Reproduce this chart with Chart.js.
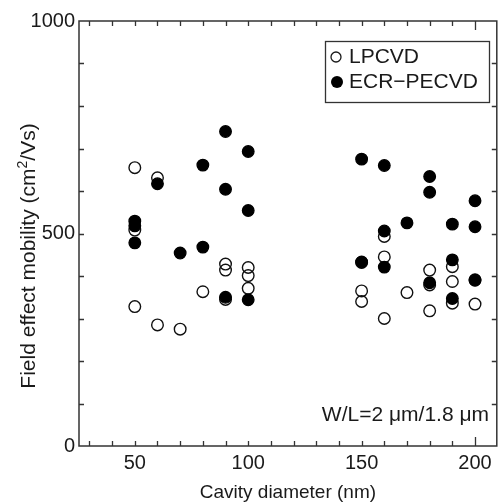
<!DOCTYPE html>
<html><head><meta charset="utf-8">
<script src="https://cdn.jsdelivr.net/npm/chart.js@4.4.0/dist/chart.umd.min.js"></script>
<style>html,body{margin:0;padding:0;background:#fff}#wrap{width:504px;height:504px}</style>
</head><body><div id="wrap"><canvas id="c" width="504" height="504"></canvas></div>
<script>
// Data
const lpcvdX = [50, 50, 50, 60, 60, 70, 80, 90, 90, 90, 100, 100, 100, 150, 150, 150, 160, 160, 160, 170, 180, 180, 180, 190, 190, 190, 200, 200];
const lpcvdY = [655, 508, 328, 631, 285, 275, 363, 428, 414, 345, 420, 401, 371, 365, 340, 432, 493, 445, 300, 361, 414, 379, 318, 422, 387, 336, 334, 391];
const ecrX = [50, 50, 50, 60, 70, 80, 80, 90, 90, 90, 100, 100, 100, 150, 150, 160, 160, 160, 170, 180, 180, 180, 190, 190, 190, 200, 200, 200];
const ecrY = [529, 518, 478, 617, 454, 661, 468, 740, 604, 350, 693, 554, 344, 675, 433, 660, 506, 421, 525, 634, 597, 384, 522, 438, 347, 577, 516, 390];
const xTickLabels = [50, 100, 150, 200];
const yTickLabels = [0, 500, 1000];
const seriesNames = ['LPCVD', 'ECR\u2212PECVD'];
const xTitle = 'Cavity diameter (nm)';
const yTitleParts = ['Field effect mobility (cm', '2', '/Vs)'];
const annotationText = 'W/L=2 \u03bcm/1.8 \u03bcm';

const FONT = "'Liberation Sans', Arial, Helvetica, sans-serif";
const INK = '#1a1a1a';

const toPts = (xs, ys) => xs.map((x, i) => ({x: x, y: ys[i]}));

const framePlugin = {
  id: 'frame',
  beforeDatasetsDraw(chart) {
    const {ctx, chartArea: a, scales: {x, y}} = chart;
    ctx.save();
    ctx.strokeStyle = '#333';
    ctx.lineWidth = 1.5;
    ctx.strokeRect(a.left, a.top, a.right - a.left, a.bottom - a.top);
    ctx.lineWidth = 1.3;
    ctx.beginPath();
    for (let v = 30; v <= 200; v += 10) {
      const px = Math.round(x.getPixelForValue(v)) + 0.5;
      const len = v === 200 ? 9 : 5;
      ctx.moveTo(px, a.bottom); ctx.lineTo(px, a.bottom - len);
      ctx.moveTo(px, a.top); ctx.lineTo(px, a.top + len);
    }
    for (let v = 100; v < 1000; v += 100) {
      const py = Math.round(y.getPixelForValue(v)) + 0.5;
      ctx.moveTo(a.left, py); ctx.lineTo(a.left + 5, py);
      ctx.moveTo(a.right, py); ctx.lineTo(a.right - 5, py);
    }
    ctx.stroke();
    ctx.restore();
  },
  afterDraw(chart) {
    const {ctx} = chart;
    ctx.save();
    // legend box
    ctx.strokeStyle = '#333';
    ctx.lineWidth = 1.3;
    ctx.strokeRect(325.5, 41.5, 164, 61);
    ctx.fillStyle = INK;
    ctx.font = '21px ' + FONT;
    ctx.textBaseline = 'middle';
    ctx.textAlign = 'left';
    ctx.beginPath(); ctx.arc(336, 57, 5, 0, Math.PI * 2);
    ctx.lineWidth = 1.3; ctx.strokeStyle = INK; ctx.stroke();
    ctx.fillText(chart.data.datasets[1].label, 349, 57);
    ctx.beginPath(); ctx.arc(337, 82, 6, 0, Math.PI * 2);
    ctx.fillStyle = '#000'; ctx.fill();
    ctx.fillStyle = INK;
    ctx.fillText(chart.data.datasets[0].label, 349, 82);
    // annotation
    ctx.font = '21px ' + FONT;
    ctx.textAlign = 'right';
    ctx.fillText(annotationText, 489, 415);
    // y-axis title with superscript
    ctx.translate(27, 256);
    ctx.rotate(-Math.PI / 2);
    const big = '21px ' + FONT, small = '14px ' + FONT;
    ctx.font = big; const w0 = ctx.measureText(yTitleParts[0]).width;
    ctx.font = small; const w1 = ctx.measureText(yTitleParts[1]).width;
    ctx.font = big; const w2 = ctx.measureText(yTitleParts[2]).width;
    let sx = -(w0 + w1 + w2) / 2;
    ctx.textAlign = 'left';
    ctx.textBaseline = 'alphabetic';
    const base = 7.5;
    ctx.font = big; ctx.fillText(yTitleParts[0], sx, base); sx += w0;
    ctx.font = small; ctx.fillText(yTitleParts[1], sx, base - 8); sx += w1;
    ctx.font = big; ctx.fillText(yTitleParts[2], sx, base);
    ctx.restore();
  }
};

new Chart(document.getElementById('c'), {
  type: 'scatter',
  data: {
    datasets: [
      {
        label: seriesNames[1],
        data: toPts(ecrX, ecrY),
        order: 1,
        pointRadius: 5.8,
        pointBorderWidth: 1.3,
        pointBackgroundColor: '#000',
        pointBorderColor: '#000'
      },
      {
        label: seriesNames[0],
        data: toPts(lpcvdX, lpcvdY),
        order: 2,
        pointRadius: 5.8,
        pointBorderWidth: 1.4,
        pointBackgroundColor: 'rgba(255,255,255,0)',
        pointBorderColor: '#111'
      }
    ]
  },
  options: {
    responsive: false,
    animation: false,
    devicePixelRatio: 1,
    layout: {padding: {top: 21, right: 1, left: 0, bottom: 0}},
    plugins: {legend: {display: false}, tooltip: {enabled: false}},
    scales: {
      x: {
        type: 'linear',
        min: 25.4,
        max: 209.6,
        grid: {display: false, drawTicks: false},
        border: {display: false},
        afterBuildTicks(s) { s.ticks = xTickLabels.map(v => ({value: v})); },
        afterFit(s) { s.height = 58; },
        ticks: {
          font: {family: FONT, size: 20},
          color: INK,
          padding: 5,
          maxRotation: 0,
          autoSkip: false,
          callback: v => String(v)
        },
        title: {
          display: true,
          text: xTitle,
          font: {family: FONT, size: 19},
          color: INK,
          padding: {top: 0, bottom: 0}
        }
      },
      y: {
        type: 'linear',
        min: 0,
        max: 1000,
        grid: {display: false, drawTicks: false},
        border: {display: false},
        afterBuildTicks(s) { s.ticks = yTickLabels.map(v => ({value: v})); },
        afterFit(s) { s.width = 79; },
        ticks: {
          font: {family: FONT, size: 20},
          color: INK,
          padding: 4,
          autoSkip: false,
          callback: v => String(v)
        },
        title: {display: false}
      }
    }
  },
  plugins: [framePlugin]
});
</script>
</body></html>
